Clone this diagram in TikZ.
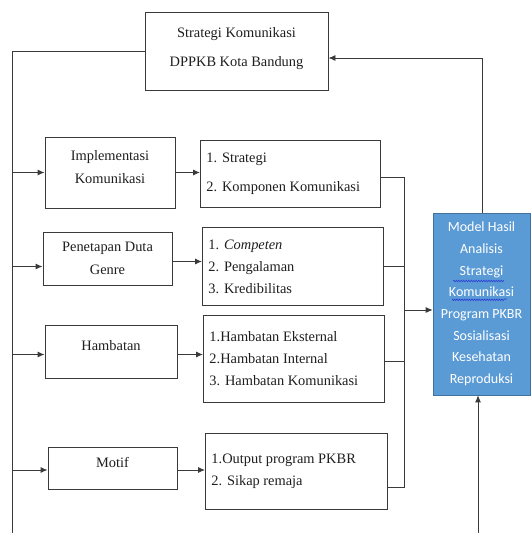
\documentclass[tikz,border=0pt]{standalone}
\usepackage{fontspec}
\setmainfont{Liberation Serif}
\newfontfamily\calibri{Carlito}
\usepackage{xcolor}
\usetikzlibrary{positioning, arrows.meta, decorations.pathmorphing}
\definecolor{fg}{HTML}{1E1E1E}
\definecolor{lineCol}{HTML}{3A3A3A}
\definecolor{modelFill}{HTML}{5B9BD5}
\definecolor{modelBorder}{HTML}{41719C}
\definecolor{spellBlue}{HTML}{2B3FD6}

\tikzset{
  aspek/.style={draw=lineCol, line width=0.9pt, text=fg, align=center,
                inner sep=0pt, font=\fontsize{14.4}{23}\selectfont},
  rincian/.style={draw=lineCol, line width=0.9pt, text=fg, align=flush left,
                  inner xsep=6pt, inner ysep=0pt, anchor=north west,
                  font=\fontsize{14.4}{22}\selectfont},
  conn/.style={draw=lineCol, line width=0.9pt},
  arr/.style={conn, -{Latex[length=7pt, width=6pt]}},
}

\begin{document}
\begin{tikzpicture}[x=1pt, y=-1pt]
  \useasboundingbox (0,0) rectangle (532,533);

  \node[aspek, minimum width=183pt, minimum height=78pt,
        font=\fontsize{14.4}{29}\selectfont] (strategi) at (236.5,51)
        {Strategi Komunikasi\\DPPKB Kota Bandung\\[-22pt]};

  % aspek kiri
  \node[aspek, minimum width=130pt, minimum height=71pt] (impl) at (110,172.5)
        {Implementasi\\Komunikasi\\[-13pt]};
  \node[aspek, minimum width=129pt, minimum height=53pt] (duta) at (107.5,258.5)
        {Penetapan Duta\\Genre};
  \node[aspek, minimum width=132pt, minimum height=53pt] (hambatan) at (111,351.5)
        {Hambatan\\[-10pt]};
  \node[aspek, minimum width=129pt, minimum height=42pt] (motif) at (112.5,468)
        {Motif\\[-11pt]};

  % rincian kanan
  \node[rincian, text width=168pt, minimum height=67pt,
        font=\fontsize{14.4}{29}\selectfont] (implR) at (200,140)
        {1. Strategi\\2. Komponen Komunikasi};
  \node[rincian, text width=169pt, minimum height=78pt] (dutaR) at (202,227)
        {1. \textit{Competen}\\2. Pengalaman\\3. Kredibilitas};
  \node[rincian, text width=169pt, minimum height=87pt] (hambatanR) at (203,315)
        {1.Hambatan Eksternal\\2.Hambatan Internal\\3. Hambatan Komunikasi};
  \node[rincian, text width=170pt, minimum height=76pt] (motifR) at (205,433)
        {1.Output program PKBR\\2. Sikap remaja\\};

  % hasil
  \node[fill=modelFill, draw=modelBorder, line width=0.6pt, text=white,
        minimum width=97pt, minimum height=182pt, align=center, inner sep=0pt,
        font=\calibri\fontsize{14}{21.7}\selectfont] (model) at (481.5,304)
        {Model Hasil\\Analisis\\Strategi\\Komunikasi\\Program PKBR\\Sosialisasi\\Kesehatan\\Reproduksi};
  \draw[spellBlue, line width=0.6pt, decorate,
        decoration={snake, amplitude=0.8pt, segment length=2.5pt}]
        (453,281) -- (503,281) (452,299) -- (507,299);

  \coordinate (railBot) at (12,533);
  \coordinate (modelBot) at (478,533);
  \coordinate (kumpul) at (404,177);

  \draw[conn] (strategi.west) -| (railBot);
  \draw[arr] (railBot |- impl.west) -- (impl.west);
  \draw[arr] ([yshift=-8pt]railBot |- duta.west) -- ([yshift=-8pt]duta.west);
  \draw[arr] ([yshift=-3pt]railBot |- hambatan.west) -- ([yshift=-3pt]hambatan.west);
  \draw[arr] ([yshift=-2pt]railBot |- motif.west) -- ([yshift=-2pt]motif.west);

  \draw[arr] (impl.east) -- (implR.west |- impl.east);
  \draw[arr] ([yshift=-3pt]duta.east) -- ([yshift=-3pt]dutaR.west |- duta.east);
  \draw[arr] ([yshift=-3pt]hambatan.east) -- ([yshift=-3pt]hambatanR.west |- hambatan.east);
  \draw[arr] ([yshift=-2pt]motif.east) -- ([yshift=-2pt]motifR.west |- motif.east);

  \draw[conn] (implR.east |- kumpul) -- (kumpul) -- (kumpul |- 0,487) -- (motifR.east |- 0,487);
  \draw[conn] (dutaR.east) -- (kumpul |- dutaR.east);
  \draw[conn] ([yshift=-2pt]hambatanR.east) -- ([yshift=-2pt]kumpul |- hambatanR.east);
  \draw[arr] (kumpul |- 0,310) -- (model.west |- 0,310);

  \draw[arr] ([xshift=1pt]model.north) |- ([yshift=-7pt]strategi.east);
  \draw[arr] (modelBot) -- (model.south -| modelBot);
\end{tikzpicture}
\end{document}
